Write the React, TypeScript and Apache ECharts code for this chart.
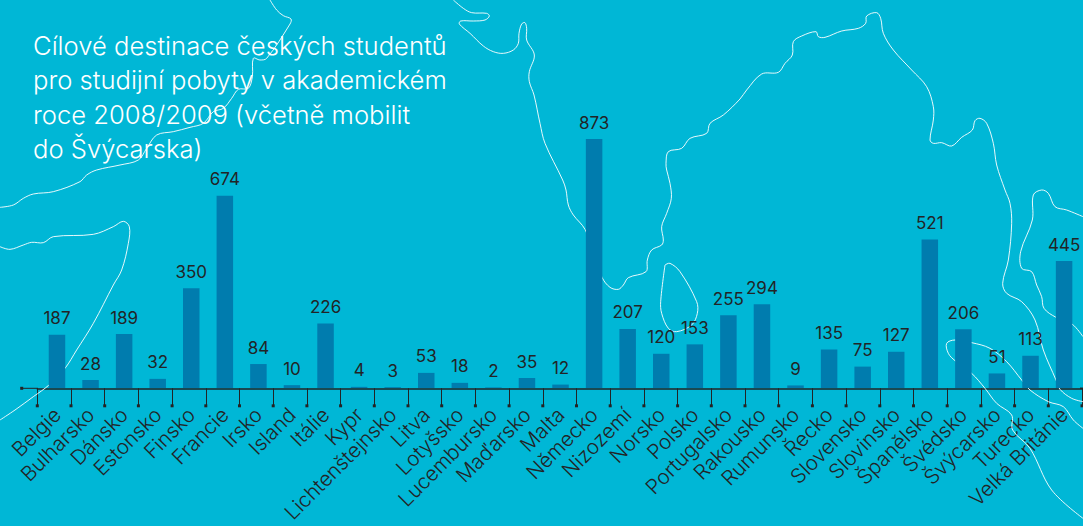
import React, { useEffect, useRef } from "react";
import * as echarts from "echarts";

const titleText = "Cílové destinace českých studentů\npro studijní pobyty v akademickém\nroce 2008/2009 (včetně mobilit\ndo Švýcarska)";
const categories = ["Belgie","Bulharsko","Dánsko","Estonsko","Finsko","Francie","Irsko","Island","Itálie","Kypr","Lichtenštejnsko","Litva","Lotyšsko","Lucembursko","Maďarsko","Malta","Německo","Nizozemí","Norsko","Polsko","Portugalsko","Rakousko","Rumunsko","Řecko","Slovensko","Slovinsko","Španělsko","Švédsko","Švýcarsko","Turecko","Velká Británie"];
const students = [187,28,189,32,350,674,84,10,226,4,3,53,18,2,35,12,873,207,120,153,255,294,9,135,75,127,521,206,51,113,445];

const BG = "#00B7D6";
const BAR = "#007CAE";
const INK = "#222426";
const FONT = "Inter";

// decorative map outlines behind the chart
const scale = (pts: number[][], ox: number, oy: number) => pts.map(([x, y]) => [ox + x / 3, oy + y / 3]);
const outlineA = scale([[810,0],[830,30],[850,47],[873,57],[870,72],[800,175],[780,180],[760,175],[757,230],[745,265],[715,268],[695,295],[670,325],[640,335],[610,370],[570,382],[520,395],[470,405],[440,445],[415,480],[360,495],[290,510],[260,525],[240,545],[160,575],[100,582],[70,595],[40,615],[0,622]],0,0);
const outlineB = [
  ...scale([[0,740],[30,748],[70,735],[95,727],[130,728],[160,710],[280,703],[340,680],[370,664],[388,680],[385,730],[365,810]],0,0),
  ...scale([[340,285],[280,400],[230,480],[195,535],[147,585],[100,620],[45,660],[0,690]],0,190),
];
const outlineC = [
  ...scale([[40,0],[70,25],[95,38],[140,40],[148,48],[135,60],[100,63],[62,63],[58,72],[90,100],[130,138],[160,155],[190,160],[220,150],[235,130],[237,100],[245,72],[255,68],[260,85],[260,120],[283,165],[268,215],[268,245],[282,285],[300,370],[315,430],[368,540]],440,0),
  ...scale([[18,60],[25,105],[40,135],[75,178],[100,250],[126,322],[150,352],[175,358],[190,345],[205,323],[258,305],[262,270],[275,240],[305,225],[310,210],[305,170],[320,130],[334,85],[330,40],[320,0]],560,170),
  ...scale([[678,490],[685,455],[725,445],[750,415],[800,400],[810,370],[850,345],[900,297]],440,0),
  ...scale([[50,270],[95,222],[145,217],[165,190],[187,165],[190,125],[215,108],[258,95],[265,110],[285,112],[335,93],[385,85],[407,70],[410,48],[440,38],[452,55],[460,100],[490,150],[545,210],[590,260],[610,320],[610,360],[600,420],[610,430],[635,428],[665,438],[695,412],[727,390],[735,362],[750,355],[770,370],[790,430],[800,495],[825,570]],730,0),
  ...scale([[330,70],[335,130],[325,240],[308,310],[320,340],[365,365],[405,420],[430,510],[468,600],[480,628],[515,655],[549,665]],900,180),
];
const outlineE = scale([[549,110],[500,90],[465,80],[445,40],[425,30],[400,45],[397,120],[362,215],[365,265],[395,275],[410,315],[425,350],[432,385],[468,412],[516,432],[549,470]],900,180);
const outlineF = scale([[459,295],[430,270],[400,230],[355,215],[300,180],[275,150],[230,95],[180,55],[125,38],[75,30],[50,40],[55,70],[75,92],[125,130],[165,175],[200,220],[245,255],[248,300],[300,355],[365,480],[459,565]],930,330);
const outlineG = scale([[315,285],[330,280],[360,305],[410,395],[412,430],[395,465],[350,485],[325,475],[305,430],[302,395],[315,285]],560,170);
const outlines = [outlineA, outlineB, outlineC, outlineE, outlineF, outlineG];

export default function App() {
  const ref = useRef<HTMLDivElement>(null);
  useEffect(() => {
    document.body.style.margin = "0";
    document.body.style.background = BG;
    const chart = echarts.init(ref.current!, null, { renderer: "svg" });
    const tickSlots = Array.from({ length: categories.length + 1 }, () => "");
    chart.setOption({
      animation: false,
      backgroundColor: BG,
      title: {
        text: titleText, left: 28, top: 23,
        textStyle: { color: "#fff", fontFamily: FONT, fontSize: 25.6, fontWeight: 300, lineHeight: 34.5 },
      },
      grid: [
        { left: 40.2, width: 33.57 * 31, top: 131.3, height: 256.7 },
        { left: 37.3, width: 1044.7, top: 300, height: 88.3 },
      ],
      xAxis: [
        {
          type: "category", gridIndex: 0, data: categories,
          axisLine: { show: false }, axisTick: { show: false },
          axisLabel: { interval: 0, rotate: 45, margin: 23, color: INK, fontFamily: FONT, fontSize: 20.5, fontWeight: 300 },
        },
        {
          type: "category", gridIndex: 1, data: tickSlots, boundaryGap: false,
          axisLine: { show: true, lineStyle: { color: INK, width: 1.5 } },
          axisTick: { show: true, interval: 0, length: 17, lineStyle: { color: INK, width: 1 } },
          axisLabel: { show: false },
        },
      ],
      yAxis: [
        { type: "value", gridIndex: 0, min: 0, max: 900, show: false },
        { type: "value", gridIndex: 1, min: 0, max: 1, show: false },
      ],
      series: [
        {
          type: "bar", xAxisIndex: 0, yAxisIndex: 0, data: students, barWidth: 16.5, z: 3,
          itemStyle: { color: BAR },
          label: { show: true, position: "top", distance: 8, color: INK, fontFamily: FONT, fontSize: 17, fontWeight: 400 },
        },
        {
          type: "scatter", xAxisIndex: 1, yAxisIndex: 1, clip: false, silent: true, z: 4,
          symbol: "rect", symbolSize: 3, symbolOffset: [0, 17.5], itemStyle: { color: INK, opacity: 1 },
          data: tickSlots.map((_, i) => [i, 0]),
        },
      ],
      graphic: [
        ...outlines.map((points) => ({
          type: "polyline", z: 1, silent: true,
          shape: { points, smooth: 0.35 },
          style: { stroke: "#fff", lineWidth: 1, fill: "none", opacity: 0.9 },
        })),
        { type: "line", z: 5, silent: true, shape: { x1: 22, y1: 388.3, x2: 38, y2: 388.3 }, style: { stroke: INK, lineWidth: 1 } },
        { type: "line", z: 5, silent: true, shape: { x1: 1080, y1: 388.3, x2: 1083, y2: 388.3 }, style: { stroke: INK, lineWidth: 1.5 } },
        { type: "rect", z: 5, silent: true, shape: { x: 20.2, y: 386.8, width: 3, height: 3 }, style: { fill: INK } },
      ],
    });
    return () => chart.dispose();
  }, []);
  return <div ref={ref} style={{ width: 1083, height: 526 }} />;
}
